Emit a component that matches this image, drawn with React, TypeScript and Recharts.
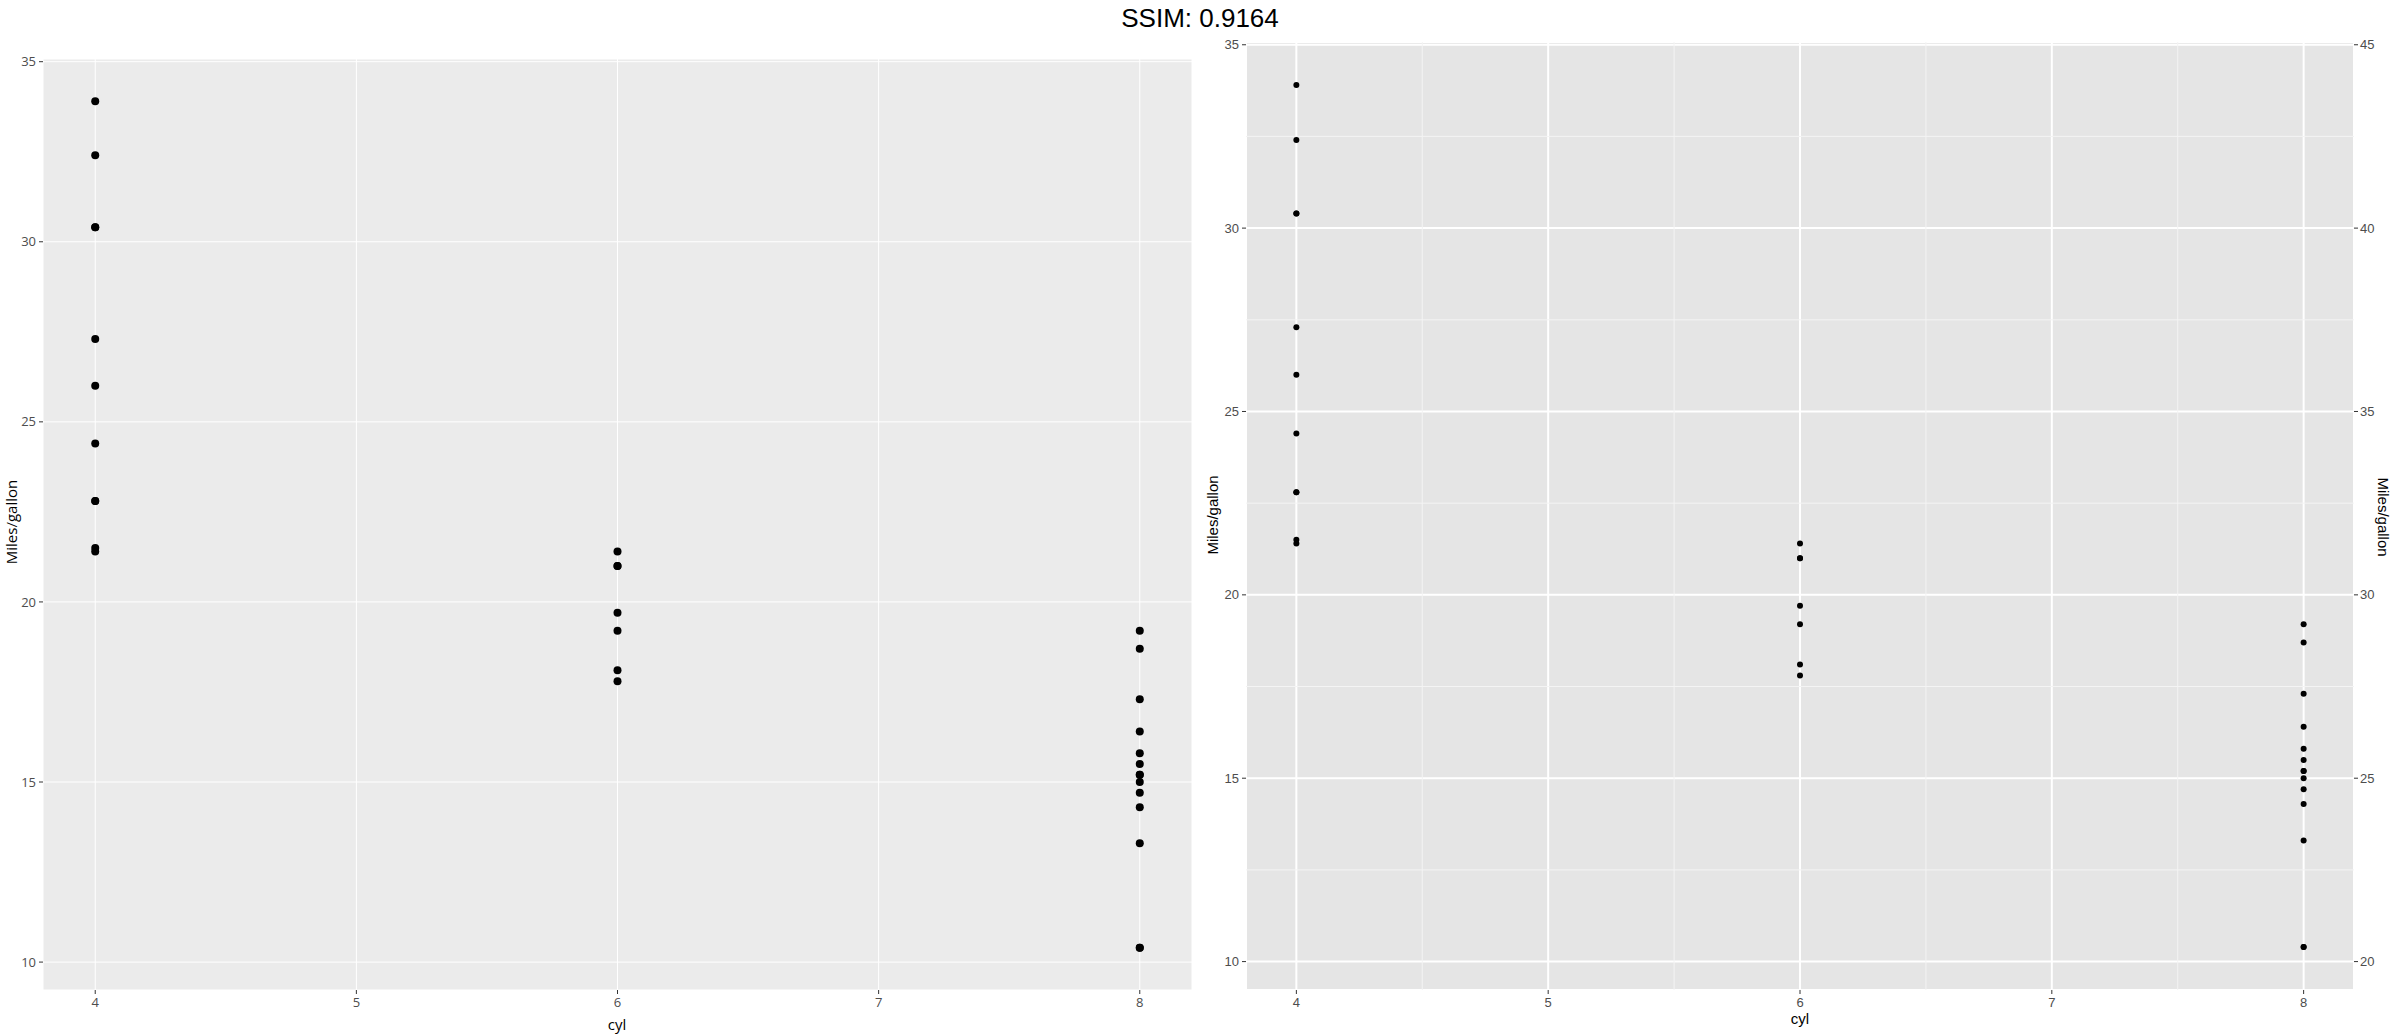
import {
  CartesianGrid,
  ReferenceLine,
  Scatter,
  ScatterChart,
  XAxis,
  YAxis,
} from "recharts";

// mpg per car, grouped by cylinder count
const MPG_CYL4 = [22.8, 24.4, 22.8, 32.4, 30.4, 33.9, 21.5, 27.3, 26.0, 30.4, 21.4];
const MPG_CYL6 = [21.0, 21.0, 21.4, 18.1, 19.2, 17.8, 19.7];
const MPG_CYL8 = [18.7, 14.3, 16.4, 17.3, 15.2, 10.4, 10.4, 14.7, 15.5, 15.2, 13.3, 19.2, 15.8, 15.0];

const CYL_TICKS = [4, 5, 6, 7, 8];
const MPG_TICKS = [10, 15, 20, 25, 30, 35];
const SEC_TICKS = [20, 25, 30, 35, 40, 45];
const MINOR_X = [4.5, 5.5, 6.5, 7.5];
const MINOR_Y = [12.5, 17.5, 22.5, 27.5, 32.5];

const X_DOMAIN: [number, number] = [3.8, 8.2];
const Y_DOMAIN: [number, number] = [9.225, 35.075];
const SEC_DOMAIN: [number, number] = [Y_DOMAIN[0] + 10, Y_DOMAIN[1] + 10];

const points = [
  ...MPG_CYL4.map((mpg) => ({ cyl: 4, mpg })),
  ...MPG_CYL6.map((mpg) => ({ cyl: 6, mpg })),
  ...MPG_CYL8.map((mpg) => ({ cyl: 8, mpg })),
];

const OPEN = "'Open Sans', sans-serif";
const ARIAL = "'Liberation Sans', Arial, sans-serif";

function AxisTitle({
  x,
  y,
  text,
  rotate = 0,
  font,
}: {
  x: number;
  y: number;
  text: string;
  rotate?: number;
  font: string;
}) {
  return (
    <div
      style={{
        position: "absolute",
        left: x,
        top: y,
        transform: `translate(-50%, -50%) rotate(${rotate}deg)`,
        fontFamily: font,
        fontSize: 15,
        lineHeight: 1,
        color: "#000",
        whiteSpace: "nowrap",
      }}
    >
      {text}
    </div>
  );
}

function LeftPanel() {
  const tick = { fill: "#4D4D4D", fontSize: 13, fontFamily: OPEN };
  return (
    <ScatterChart
      width={1200}
      height={1034}
      margin={{ top: 59, right: 8, bottom: 0, left: 0 }}
    >
      <CartesianGrid fill="#EBEBEB" stroke="#FFFFFF" strokeWidth={1} />
      <XAxis
        type="number"
        dataKey="cyl"
        domain={X_DOMAIN}
        ticks={CYL_TICKS}
        height={44}
        axisLine={false}
        tickSize={4}
        tickMargin={4}
        tickLine={{ stroke: "#333333" }}
        tick={tick}
      />
      <YAxis
        type="number"
        dataKey="mpg"
        domain={Y_DOMAIN}
        ticks={MPG_TICKS}
        width={43}
        axisLine={false}
        tickSize={4}
        tickMargin={3}
        tickLine={{ stroke: "#333333" }}
        tick={tick}
      />
      <Scatter
        data={points}
        isAnimationActive={false}
        shape={(p: any) => <circle cx={p.cx} cy={p.cy} r={4} fill="#000" />}
      />
    </ScatterChart>
  );
}

function RightPanel() {
  const tick = { fill: "#4D4D4D", fontSize: 13, fontFamily: ARIAL };
  return (
    <ScatterChart
      width={1200}
      height={1034}
      margin={{ top: 42, right: 0, bottom: 0, left: 0 }}
    >
      <CartesianGrid fill="#E5E5E5" stroke="#FFFFFF" strokeWidth={2} />
      {MINOR_X.map((v) => (
        <ReferenceLine key={`mx${v}`} x={v} stroke="#F4F4F4" strokeWidth={1} />
      ))}
      {MINOR_Y.map((v) => (
        <ReferenceLine key={`my${v}`} y={v} stroke="#F4F4F4" strokeWidth={1} />
      ))}
      <XAxis
        type="number"
        dataKey="cyl"
        domain={X_DOMAIN}
        ticks={CYL_TICKS}
        height={44}
        axisLine={false}
        tickSize={4}
        tickMargin={4}
        tickLine={{ stroke: "#333333" }}
        tick={tick}
      />
      <YAxis
        type="number"
        dataKey="mpg"
        domain={Y_DOMAIN}
        ticks={MPG_TICKS}
        width={46}
        axisLine={false}
        tickSize={4}
        tickMargin={3}
        tickLine={{ stroke: "#333333" }}
        tick={tick}
      />
      <YAxis
        yAxisId="sec"
        orientation="right"
        type="number"
        domain={SEC_DOMAIN}
        ticks={SEC_TICKS}
        allowDataOverflow
        width={46}
        axisLine={false}
        tickSize={4}
        tickMargin={2}
        tickLine={{ stroke: "#333333" }}
        tick={tick}
      />
      <Scatter
        data={points}
        isAnimationActive={false}
        shape={(p: any) => <circle cx={p.cx} cy={p.cy} r={3} fill="#000" />}
      />
    </ScatterChart>
  );
}

export default function App() {
  return (
    <div
      style={{
        position: "absolute",
        left: 0,
        top: 0,
        width: 2400,
        height: 1034,
        background: "#FFFFFF",
        overflow: "hidden",
      }}
    >
      <div
        style={{
          position: "absolute",
          left: 0,
          width: 2400,
          top: 3,
          textAlign: "center",
          fontFamily: ARIAL,
          fontSize: 26,
          lineHeight: "30px",
          color: "#000",
        }}
      >
        SSIM: 0.9164
      </div>
      <div style={{ position: "absolute", left: 0, top: 0 }}>
        <LeftPanel />
      </div>
      <div style={{ position: "absolute", left: 1200, top: 0 }}>
        <RightPanel />
      </div>
      <AxisTitle x={11} y={522} text="Miles/gallon" rotate={-90} font={OPEN} />
      <AxisTitle x={617} y={1024} text="cyl" font={OPEN} />
      <AxisTitle x={1212} y={515} text="Miles/gallon" rotate={-90} font={ARIAL} />
      <AxisTitle x={1800} y={1018} text="cyl" font={ARIAL} />
      <AxisTitle x={2383} y={517} text="Miles/gallon" rotate={90} font={ARIAL} />
    </div>
  );
}
